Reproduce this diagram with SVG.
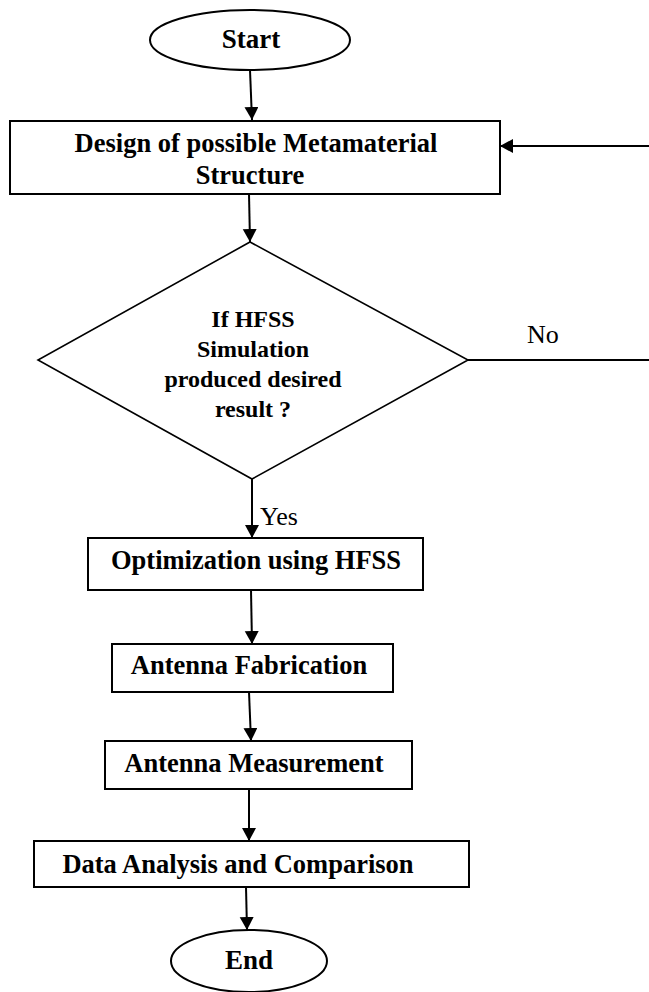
<svg xmlns="http://www.w3.org/2000/svg" width="649" height="992" viewBox="0 0 649 992">
<style>
.shape{fill:#fff;stroke:#000;stroke-width:2}
.dia{fill:#fff;stroke:#000;stroke-width:1.6}
.lbl{font-family:"Liberation Serif","Times New Roman",serif;font-weight:bold;fill:#000;text-anchor:middle}
.reg{font-family:"Liberation Serif","Times New Roman",serif;fill:#000}
.conn{stroke:#000;stroke-width:2;fill:none}
</style>
<defs>
<marker id="ah" markerUnits="userSpaceOnUse" markerWidth="15" markerHeight="16" refX="13" refY="7" orient="auto">
<path d="M0,0 L13,7 L0,14 z" fill="#000"/>
</marker>
</defs>
<g id="start">
<ellipse class="shape" cx="250" cy="40" rx="100" ry="30"/>
<text class="lbl" x="251" y="48" font-size="27">Start</text>
</g>
<g id="design">
<rect class="shape" x="10" y="121" width="490" height="73"/>
<text class="lbl" x="256" y="152" font-size="26.5">Design of possible Metamaterial</text>
<text class="lbl" x="250" y="184" font-size="26.5">Structure</text>
</g>
<g id="decision">
<polygon class="dia" points="250,242 468,360 252,479 38,360"/>
<text class="lbl" x="253" y="327" font-size="24">If HFSS</text>
<text class="lbl" x="253" y="357" font-size="24">Simulation</text>
<text class="lbl" x="253" y="387" font-size="24">produced desired</text>
<text class="lbl" x="253" y="417" font-size="24">result ?</text>
</g>
<g id="optimization">
<rect class="shape" x="88" y="538" width="335" height="52"/>
<text class="lbl" x="256" y="569" font-size="26.5">Optimization using HFSS</text>
</g>
<g id="fabrication">
<rect class="shape" x="112" y="644" width="281" height="48"/>
<text class="lbl" x="249" y="674" font-size="26.5">Antenna Fabrication</text>
</g>
<g id="measurement">
<rect class="shape" x="105" y="741" width="307" height="48"/>
<text class="lbl" x="254" y="772" font-size="26.5">Antenna Measurement</text>
</g>
<g id="analysis">
<rect class="shape" x="34" y="841" width="435" height="46"/>
<text class="lbl" x="238" y="873" font-size="26.5">Data Analysis and Comparison</text>
</g>
<g id="end">
<ellipse class="shape" cx="249" cy="961" rx="78" ry="31"/>
<text class="lbl" x="249" y="969" font-size="27">End</text>
</g>
<g id="connectors">
<line class="conn" x1="250" y1="70" x2="252" y2="120" marker-end="url(#ah)"/>
<line class="conn" x1="249" y1="194" x2="250" y2="242" marker-end="url(#ah)"/>
<line class="conn" x1="252" y1="479" x2="252" y2="538" marker-end="url(#ah)"/>
<line class="conn" x1="251" y1="590" x2="252" y2="644" marker-end="url(#ah)"/>
<line class="conn" x1="249" y1="692" x2="251" y2="741" marker-end="url(#ah)"/>
<line class="conn" x1="249" y1="789" x2="249" y2="841" marker-end="url(#ah)"/>
<line class="conn" x1="246" y1="887" x2="247" y2="930" marker-end="url(#ah)"/>
<line class="conn" x1="468" y1="360" x2="649" y2="360"/>
<line class="conn" x1="649" y1="146" x2="500" y2="146" marker-end="url(#ah)"/>
<text class="reg" x="527" y="343" font-size="26">No</text>
<text class="reg" x="260" y="525" font-size="26">Yes</text>
</g>
</svg>
